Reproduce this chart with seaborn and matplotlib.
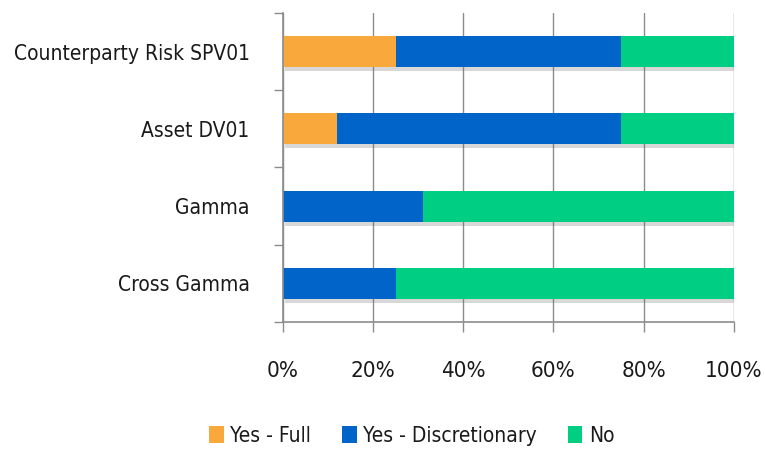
import matplotlib
matplotlib.use("Agg")
import matplotlib.pyplot as plt
import matplotlib.patheffects as pe
import matplotlib.ticker as mticker
from matplotlib.patches import Patch
import numpy as np
import pandas as pd
import seaborn as sns

categories = ["Counterparty Risk SPV01", "Asset DV01", "Gamma", "Cross Gamma"]
yes_full = [25, 12, 0, 0]
yes_disc = [50, 63, 31, 25]
no_vals = [25, 25, 69, 75]
series_names = ["Yes - Full", "Yes - Discretionary", "No"]
colors = ["#F9A93C", "#0064C8", "#00CE82"]
xtick_vals = [0, 20, 40, 60, 80, 100]

sns.set_theme(style="white")
plt.rcParams["font.family"] = ["DejaVu Sans"]
plt.rcParams["font.stretch"] = "condensed"

df = pd.DataFrame({"cat": categories, "full": yes_full, "disc": yes_disc, "no": no_vals})
df["c1"] = df["full"]
df["c2"] = df["full"] + df["disc"]
df["c3"] = df["full"] + df["disc"] + df["no"]

fig = plt.figure(figsize=(7.65, 4.49), dpi=100)
ax = fig.add_axes([0.370, 0.283, 0.589, 0.688])

shadow = [pe.SimplePatchShadow(offset=(1.5, -3), shadow_rgbFace="#666666", alpha=0.25), pe.Normal()]
for col, c in zip(["c3", "c2", "c1"], colors[::-1]):
    sns.barplot(data=df, x=col, y="cat", orient="h", color=c, width=0.4,
                saturation=1, ax=ax, order=categories, linewidth=0)

for p in ax.containers[0]:
    p.set_path_effects(shadow)

ax.set_xlim(0, 100)
ax.set_ylim(3.5, -0.5)
ax.set_xlabel("")
ax.set_ylabel("")
ax.xaxis.set_major_locator(mticker.FixedLocator(xtick_vals))
ax.xaxis.set_major_formatter(mticker.FuncFormatter(lambda v, p: f"{int(v)}%"))
ax.grid(axis="x", color="#8c8c8c", linewidth=1.0)
ax.set_axisbelow(True)
for s in ["top", "right"]:
    ax.spines[s].set_visible(False)
for s in ["left", "bottom"]:
    ax.spines[s].set_color("#8c8c8c")
    ax.spines[s].set_linewidth(1.2)

ax.tick_params(axis="x", direction="out", length=7, width=1, color="#8c8c8c",
               labelsize=16, pad=21, labelcolor="#1a1a1a", bottom=True)
ax.tick_params(axis="y", which="major", length=0, labelsize=15, pad=24, labelcolor="#1a1a1a")
ax.yaxis.set_minor_locator(mticker.FixedLocator([-0.5, 0.5, 1.5, 2.5, 3.5]))
ax.tick_params(axis="y", which="minor", direction="out", length=6.5, width=1, color="#8c8c8c", left=True)

handles = [Patch(facecolor=c, edgecolor="none") for c in colors]
fig.legend(handles, series_names, loc="lower center", bbox_to_anchor=(0.538, -0.035), ncol=3,
           frameon=False, fontsize=15, handlelength=0.7, handleheight=0.9,
           handletextpad=0.3, columnspacing=1.5, labelcolor="#1a1a1a")

fig.savefig("out.png", dpi=100)
